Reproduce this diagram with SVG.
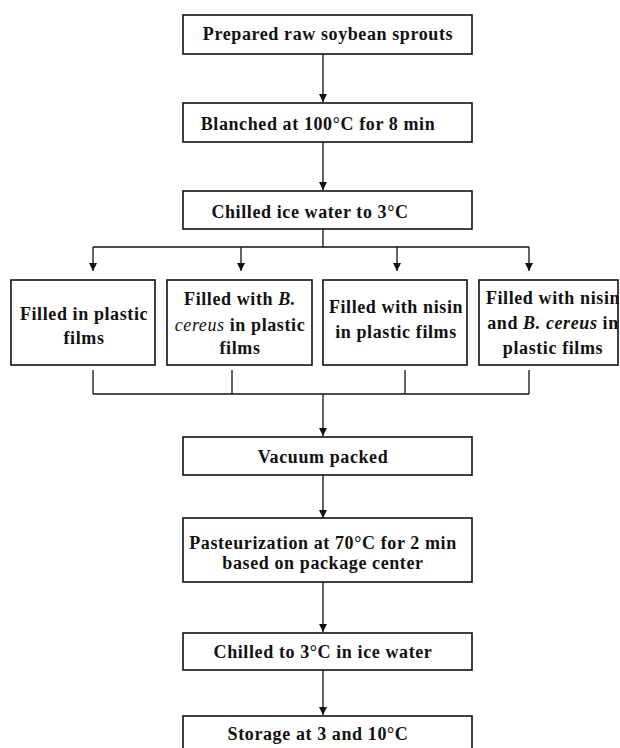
<svg xmlns="http://www.w3.org/2000/svg" width="620" height="748" viewBox="0 0 620 748">
<defs>
<marker id="ah" viewBox="0 0 10 10" refX="10" refY="5" markerWidth="8" markerHeight="8" markerUnits="userSpaceOnUse" orient="auto">
<path d="M0,0 L10,5 L0,10 z" fill="#111"/>
</marker>
<style>
.box{fill:#fff;stroke:#111;stroke-width:1.6}
.t{font-family:"Liberation Serif","Times New Roman",serif;font-weight:bold;font-size:18px;letter-spacing:0.6px;fill:#111;text-anchor:middle}
.c{fill:none;stroke:#111;stroke-width:1.3}
.a{fill:none;stroke:#111;stroke-width:1.3;marker-end:url(#ah)}
</style>
</defs>
<rect width="620" height="748" fill="#fff"/>
<g id="connectors">
<line class="a" x1="323" y1="54" x2="323" y2="102"/>
<line class="a" x1="323" y1="142" x2="323" y2="190"/>
<line class="c" x1="323" y1="229" x2="323" y2="247"/>
<line class="c" x1="93" y1="247" x2="529" y2="247"/>
<line class="a" x1="93" y1="247" x2="93" y2="271"/>
<line class="a" x1="241" y1="247" x2="241" y2="271"/>
<line class="a" x1="397" y1="247" x2="397" y2="271"/>
<line class="a" x1="529" y1="247" x2="529" y2="271"/>
<line class="c" x1="93" y1="370" x2="93" y2="394"/>
<line class="c" x1="232" y1="370" x2="232" y2="394"/>
<line class="c" x1="405" y1="370" x2="405" y2="394"/>
<line class="c" x1="529" y1="370" x2="529" y2="394"/>
<line class="c" x1="93" y1="394" x2="529" y2="394"/>
<line class="a" x1="323" y1="394" x2="323" y2="436"/>
<line class="a" x1="323" y1="475" x2="323" y2="518"/>
<line class="a" x1="323" y1="582" x2="323" y2="632"/>
<line class="a" x1="323" y1="670" x2="323" y2="715"/>
</g>
<g id="n1"><rect class="box" x="183" y="15" width="289" height="39"/><text class="t" x="328" y="40">Prepared raw soybean sprouts</text></g>
<g id="n2"><rect class="box" x="183" y="103" width="289" height="39"/><text class="t" x="318" y="130">Blanched at 100°C for 8 min</text></g>
<g id="n3"><rect class="box" x="183" y="191" width="289" height="38"/><text class="t" x="310" y="218">Chilled ice water to 3°C</text></g>
<g id="nA"><rect class="box" x="11" y="280" width="144" height="85"/><text class="t" x="84" y="320">Filled in plastic</text><text class="t" x="84" y="344">films</text></g>
<g id="nB"><rect class="box" x="167" y="280" width="145" height="85"/><text class="t" x="240" y="305">Filled with <tspan font-style="italic">B.</tspan></text><text class="t" x="240" y="331"><tspan font-style="italic" font-weight="normal">cereus</tspan> in plastic</text><text class="t" x="240" y="354">films</text></g>
<g id="nC"><rect class="box" x="323" y="280" width="144" height="85"/><text class="t" x="396" y="313">Filled with nisin</text><text class="t" x="396" y="338">in plastic films</text></g>
<g id="nD"><rect class="box" x="479" y="280" width="139" height="85"/><text class="t" x="553" y="304">Filled with nisin</text><text class="t" x="553" y="329">and <tspan font-style="italic">B. cereus</tspan> in</text><text class="t" x="553" y="354">plastic films</text></g>
<g id="n4"><rect class="box" x="183" y="437" width="289" height="38"/><text class="t" x="323" y="463">Vacuum packed</text></g>
<g id="n5"><rect class="box" x="183" y="518" width="289" height="64"/><text class="t" x="323" y="549">Pasteurization at 70°C for 2 min</text><text class="t" x="323" y="569">based on package center</text></g>
<g id="n6"><rect class="box" x="183" y="633" width="289" height="37"/><text class="t" x="323" y="658">Chilled to 3°C in ice water</text></g>
<g id="n7"><rect class="box" x="183" y="716" width="289" height="40"/><text class="t" x="318" y="740">Storage at 3 and 10°C</text></g>
</svg>
